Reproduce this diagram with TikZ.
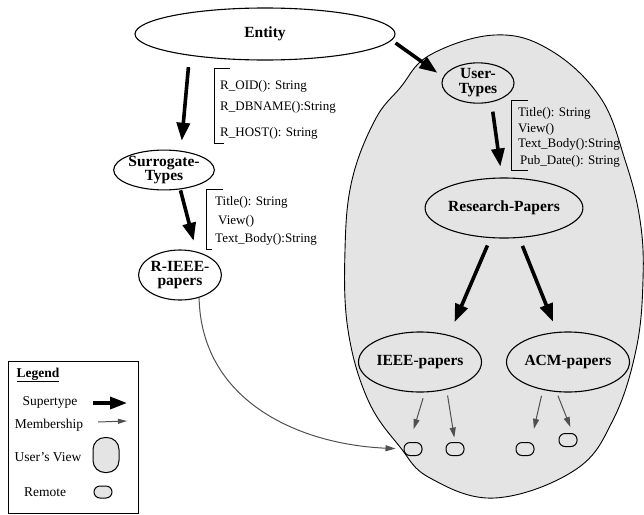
\documentclass[tikz,border=0pt]{standalone}
\usepackage{fontspec}
\setmainfont{Liberation Serif}
\usetikzlibrary{arrows.meta,shapes.geometric}
\definecolor{lgray}{HTML}{E4E4E4}
\definecolor{mgray}{HTML}{505050}
\begin{document}
\begin{tikzpicture}[x=1pt,y=-1pt,
  oval/.style={draw, ellipse, line width=1.1pt, inner sep=0pt, align=center,
    font=\fontsize{15.5}{14}\selectfont\bfseries},
  super/.style={line width=3.6pt, -{Triangle[length=18pt,width=13pt]}},
  member/.style={draw=mgray, line width=1pt, -{Triangle[length=10pt,width=6pt]}, mgray},
  remote/.style={draw, line width=1pt, fill=lgray, rounded corners=6pt,
    minimum width=18pt, minimum height=13pt, inner sep=0pt},
  attr/.style={anchor=west, inner sep=0pt, font=\fontsize{13}{13}\selectfont},
  lgtext/.style={inner sep=0pt, font=\fontsize{13.5}{13.5}\selectfont},
  bracket/.style={line width=1pt}
]
\useasboundingbox (0,0) rectangle (644,514);

% big user's view region
\draw[fill=lgray, line width=0.9pt] plot[smooth cycle, tension=0.65] coordinates {
  (495,35) (550,50) (600,97) (625,160) (640,220) (643,280) (636,350) (613,420)
  (575,470) (495,498) (430,478) (400,447) (368,400) (348,330) (345,250)
  (352,180) (375,120) (400,88) (430,55)};

% nodes
\node[oval, fill=white, minimum width=260pt, minimum height=52pt] (entity) at (265,34) {Entity};
\node[oval, fill=white, minimum width=88pt, minimum height=36pt,
  font=\fontsize{15.5}{12.5}\selectfont\bfseries] (surr) at (164,170) {Surrogate-\\Types};
\node[oval, fill=white, minimum width=68pt, minimum height=50pt,
  font=\fontsize{15.5}{14.5}\selectfont\bfseries] (rieee) at (180,275) {R-IEEE-\\papers};
\node[oval, fill=lgray, minimum width=72pt, minimum height=37pt,
  font=\fontsize{15.5}{15}\selectfont\bfseries] (user) at (478,83) {User-\\Types};
\node[oval, fill=lgray, minimum width=132pt, minimum height=60pt] (research) at (504,208) {Research-Papers};
\node[oval, fill=lgray, minimum width=116pt, minimum height=60pt] (ieee) at (420,362) {IEEE-papers};
\node[oval, fill=lgray, minimum width=116pt, minimum height=60pt] (acm) at (568,362) {ACM-papers};

\node[remote] (r1) at (413,449) {};
\node[remote] (r2) at (455,449) {};
\node[remote] (r3) at (525,449) {};
\node[remote] (r4) at (568,440) {};

% attribute lists
\draw[bracket] (230,68) -- (214,68) -- (214,143) -- (224,143);
\node[attr] (a1) at (220,86) {R\_OID(): String};
\node[attr] (a2) at (220,107) {R\_DBNAME():String};
\node[attr] (a3) at (220,133) {R\_HOST(): String};

\draw[bracket] (223,189) -- (206,189) -- (206,249) -- (212,249);
\node[attr] (b1) at (215,202) {Title(): String};
\node[attr] (b2) at (218,221) {View()};
\node[attr] (b3) at (215,239) {Text\_Body():String};

\draw[bracket] (528,100) -- (511,100) -- (511,170) -- (528,170);
\node[attr] (c1) at (518,113) {Title(): String};
\node[attr] (c2) at (518,129) {View()};
\node[attr] (c3) at (518,144) {Text\_Body():String};
\node[attr] (c4) at (520,161) {Pub\_Date(): String};

% supertype arrows
\draw[super, shorten <=11.5pt, shorten >=10pt] (entity.196) -- (surr.49);
\draw[super, shorten >=7pt] ([yshift=-9pt]entity.east) -- (user.170);
\draw[super, shorten <=1pt, shorten >=11pt] (surr.-50) -- (rieee.55);
\draw[super, shorten <=9.5pt, shorten >=11pt] (user.-55) -- (research.94);
\draw[super, shorten <=8pt, shorten >=14pt] (research.-114) -- (ieee.43);
\draw[super, shorten <=8.5pt, shorten >=11pt] (research.-63) -- (acm.110);

% membership arrows
\draw[member, shorten <=6pt, shorten >=13.5pt] (ieee.-81) -- (r1.115);
\draw[member, shorten <=6pt, shorten >=4.5pt] (ieee.-46) -- (r2.north);
\draw[member, shorten <=6pt, shorten >=13.5pt] (acm.-132) -- (r3.50);
\draw[member, shorten <=4pt, shorten >=6.5pt] (acm.-111) -- (r4.56);
\draw[member, shorten >=8pt] (rieee.-50) .. controls +(2,100) and +(-110,-5) .. (r1.west);

% legend
\draw[line width=0.9pt] (8,361) rectangle (138,513);
\node[lgtext, font=\fontsize{13.5}{13.5}\selectfont\bfseries] (lgtitle) at (38,375) {\underline{Legend}};
\node[lgtext] (lsup) at (50,402) {Supertype};
\coordinate (sa) at (93,403);
\coordinate (sb) at (127,403);
\draw[super, line width=3.4pt, -{Triangle[length=17pt,width=12pt]}] (sa) -- (sb);
\node[lgtext] (lmem) at (49,425) {Membership};
\coordinate (ma) at (98,422);
\coordinate (mb) at (127,421);
\draw[member, -{Triangle[length=9pt,width=5pt]}] (ma) -- (mb);
\node[lgtext] (luv) at (48,457) {User’s View};
\node[draw, line width=1pt, fill=lgray, rounded corners=12pt, minimum width=26pt,
  minimum height=35pt, inner sep=0pt] (uvshape) at (106,455) {};
\node[lgtext] (lrem) at (45,492) {Remote};
\node[remote, minimum height=12pt] (rshape) at (103,492) {};
\end{tikzpicture}
\end{document}
